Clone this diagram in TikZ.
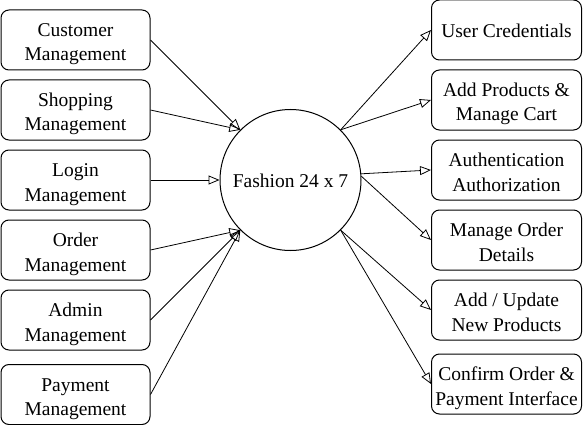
\documentclass[tikz,border=0pt]{standalone}
\usepackage{fontspec}
\setmainfont{Liberation Serif}
\usetikzlibrary{arrows.meta}
\newcommand\twoline[2]{\begin{tabular}[t]{@{}c@{}}#1\\#2\end{tabular}}
\begin{document}
\begin{tikzpicture}[x=1pt,y=-1pt,
  box/.style={draw, line width=1pt, rounded corners=8pt, minimum width=149pt, minimum height=60pt, inner sep=0pt, font=\fontsize{19.5}{24.3}\selectfont},
  boxb/.style={box, text height=15pt, text depth=21.6pt},
  boxa/.style={box, text height=20.4pt, text depth=5pt},
  hub/.style={draw, line width=1pt, circle, minimum size=141pt, inner sep=0pt, font=\fontsize{19.5}{24.3}\selectfont, text height=19.6pt, text depth=5pt},
  arr/.style={line width=0.8pt, -{Triangle[open, length=11pt, width=9pt, line width=0.8pt]}}]
\useasboundingbox (0,0) rectangle (583,425);
\node[hub] (c) at (290.5,180) {Fashion 24 x 7};
\node[boxb] (l1) at (75.5,40) {\twoline{Customer}{Management}};
\node[boxb] (l2) at (75.5,110) {\twoline{Shopping}{Management}};
\node[boxb] (l3) at (75.5,180) {\twoline{Login}{Management}};
\node[boxb] (l4) at (75.5,250) {\twoline{Order}{Management}};
\node[boxb] (l5) at (75.5,320) {\twoline{Admin}{Management}};
\node[boxb] (l6) at (75.5,394.5) {\twoline{Payment}{Management}};
\node[boxa, minimum width=150pt] (r1) at (506.5,30) {User Credentials};
\node[boxb, minimum width=150pt] (r2) at (506.5,100) {\twoline{Add Products \&}{Manage Cart}};
\node[boxb, minimum width=150pt] (r3) at (506.5,170) {\twoline{Authentication}{Authorization}};
\node[boxb, minimum width=150pt] (r4) at (506.5,240) {\twoline{Manage Order}{Details}};
\node[boxb, minimum width=150pt] (r5) at (506.5,310) {\twoline{Add / Update}{New Products}};
\node[boxb, minimum width=150pt] (r6) at (506.5,384) {\twoline{Confirm Order \&}{Payment Interface}};
\draw[arr] (l1.east) -- (c.135);
\draw[arr] (l2.east) -- (c.135);
\draw[arr] (l3.east) -- (c.west);
\draw[arr] (l4.east) -- (c.225);
\draw[arr] (l5.east) -- (c.225);
\draw[arr] (l6.east) -- (c.225);
\draw[arr] (c.45) -- (r1.west);
\draw[arr] (c.45) -- (r2.west);
\draw[arr] (c.5) -- (r3.west);
\draw[arr] (c.3) -- (r4.west);
\draw[arr] (c.-45) -- (r5.west);
\draw[arr] (c.-45) -- (r6.west);
\end{tikzpicture}
\end{document}
